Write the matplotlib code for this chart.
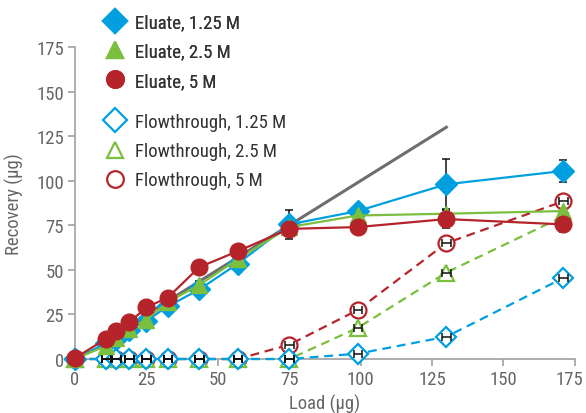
import matplotlib.pyplot as plt
from matplotlib.lines import Line2D
from matplotlib.transforms import ScaledTranslation
import numpy as np

# load (ug) and recovered amounts (ug)
load = [0, 11, 14.5, 19, 25, 32.5, 43.5, 57, 75, 99, 130, 171]

eluate_125 = [0, 9, 11.5, 16.5, 21.5, 29.5, 39, 53.5, 75.5, 83, 98, 105.5]
eluate_25 = [0, 7.5, 12, 17, 22, 32, 41.5, 56, 74, 80.5, 81.5, 83]
eluate_5 = [0.5, 11.5, 15.5, 20.5, 29, 34.5, 51.5, 60.5, 73, 74, 78.5, 75.5]

flow_125 = [0, 0, 0, 0, 0, 0, 0, 0, 0, 3, 12.5, 45.5]
flow_25 = [0, 0, 0, 0, 0, 0, 0, 0, 0, 17.5, 48.5, 80]
flow_5 = [0, 0, 0, 0, 0, 0, 0, 0, 8, 27.5, 65, 88.5]

# vertical error bars on the eluates
eluate_125_err = [0, 0, 0, 0, 0, 0, 0, 0, 8, 0, 14, 6]
eluate_25_err = [0, 0, 0, 0, 0, 0, 2, 0, 0, 0, 2, 0]
eluate_5_err = [0, 0, 0, 0, 0, 0, 0, 0, 0, 0, 5, 4]
# horizontal error bars on the flowthrough points
flow_xerr = [0, 1.5, 1.5, 1.5, 1.5, 1.5, 1.5, 1.5, 1.5, 1.5, 1.5, 1.5]

# ideal recovery line
ideal_x = [11, 130]
ideal_y = [11, 130]

BLUE = '#00a0e0'
GREEN = '#7bbf3e'
RED = '#b5242a'
GRAY = '#6e6e6e'
TXT = '#333333'

plt.rcParams['font.family'] = ['Roboto Condensed', 'Liberation Sans Narrow',
                               'DejaVu Sans Condensed', 'Roboto', 'DejaVu Sans']
plt.rcParams['font.stretch'] = 'condensed'

fig = plt.figure(figsize=(5.86, 4.14), dpi=100)
ax = fig.add_axes([0.128, 0.1304, 0.853, 0.7536])

def errbars(x, y, xerr=None, yerr=None, z=5):
  x = np.array(x, float)
  y = np.array(y, float)
  err = np.array(xerr if xerr is not None else yerr, float)
  m = err > 0
  kw = dict(fmt='none', ecolor='#111111', elinewidth=1.1, capsize=3, capthick=1.1, zorder=z, clip_on=False)
  if xerr is not None:
    ax.errorbar(x[m], y[m], xerr=err[m], **kw)
  else:
    ax.errorbar(x[m], y[m], yerr=err[m], **kw)

# flowthrough (dashed, open markers)
flows = [(flow_5, RED, 'o', 11.5),
         (flow_25, GREEN, '^', 11),
         (flow_125, BLUE, 'D', 10)]
for i, (vals, col, mk, ms) in enumerate(flows):
  ax.plot(load, vals, color=col, ls=(0, (4, 2.6)), lw=1.6, marker=mk, ms=ms,
          mfc='white', mec=col, mew=1.6, zorder=3 + i * 0.1, clip_on=False)
  errbars(load, vals, xerr=flow_xerr, z=3.5 + i * 0.1)

# ideal line
ax.plot(ideal_x, ideal_y, color=GRAY, lw=2.2, zorder=4.5)

# eluates (solid, filled markers)
eluates = [(eluate_125, eluate_125_err, BLUE, 'D', 11),
           (eluate_25, eluate_25_err, GREEN, '^', 11),
           (eluate_5, eluate_5_err, RED, 'o', 12)]
for i, (vals, err, col, mk, ms) in enumerate(eluates):
  errbars(load, vals, yerr=err, z=4 + i * 0.1)
  ax.plot(load, vals, color=col, lw=1.6, marker=mk, ms=ms, mfc=col, mec=col,
          zorder=5 + i * 0.1, clip_on=False)

ax.set_xlim(0, 175)
ax.set_ylim(0, 175)
ax.set_xticks(np.arange(0, 176, 25))
ax.set_yticks(np.arange(0, 176, 25))
for s in ['top', 'right']:
  ax.spines[s].set_visible(False)
for s in ['left', 'bottom']:
  ax.spines[s].set_color('#a0a0a0')
  ax.spines[s].set_linewidth(1.2)
ax.tick_params(direction='out', length=5, width=1.2, color='#a0a0a0',
               labelcolor='#666666', labelsize=13.5, pad=3)
ax.set_xlabel('Load (µg)', color='#666666', fontsize=13.5, labelpad=4)
ax.set_ylabel('Recovery (µg)', color='#666666', fontsize=13.5, labelpad=9)

# keep the last x label inside the figure
last = ax.get_xticklabels()[-1]
last.set_transform(last.get_transform() + ScaledTranslation(-4 / 72, 0, fig.dpi_scale_trans))

# legend split in two groups
def handle(col, mk, ms, filled):
  return Line2D([], [], ls='none', marker=mk, ms=ms, mec=col, mew=1.6,
                mfc=col if filled else 'white')

h1 = [handle(BLUE, 'D', 12, True), handle(GREEN, '^', 12, True), handle(RED, 'o', 12, True)]
l1 = ['Eluate, 1.25 M', 'Eluate, 2.5 M', 'Eluate, 5 M']
h2 = [handle(BLUE, 'D', 12, False), handle(GREEN, '^', 12, False), handle(RED, 'o', 12, False)]
l2 = ['Flowthrough, 1.25 M', 'Flowthrough, 2.5 M', 'Flowthrough, 5 M']

kw = dict(frameon=False, fontsize=13.5, labelcolor=TXT, handlelength=1.0,
          handletextpad=0.55, labelspacing=0.6, borderaxespad=0, borderpad=0)
leg1 = fig.legend(h1, l1, loc='upper left', bbox_to_anchor=(0.18, 0.965), **kw)
fig.add_artist(leg1)
fig.legend(h2, l2, loc='upper left', bbox_to_anchor=(0.18, 0.725), **kw)

fig.savefig('out.png', dpi=100)
